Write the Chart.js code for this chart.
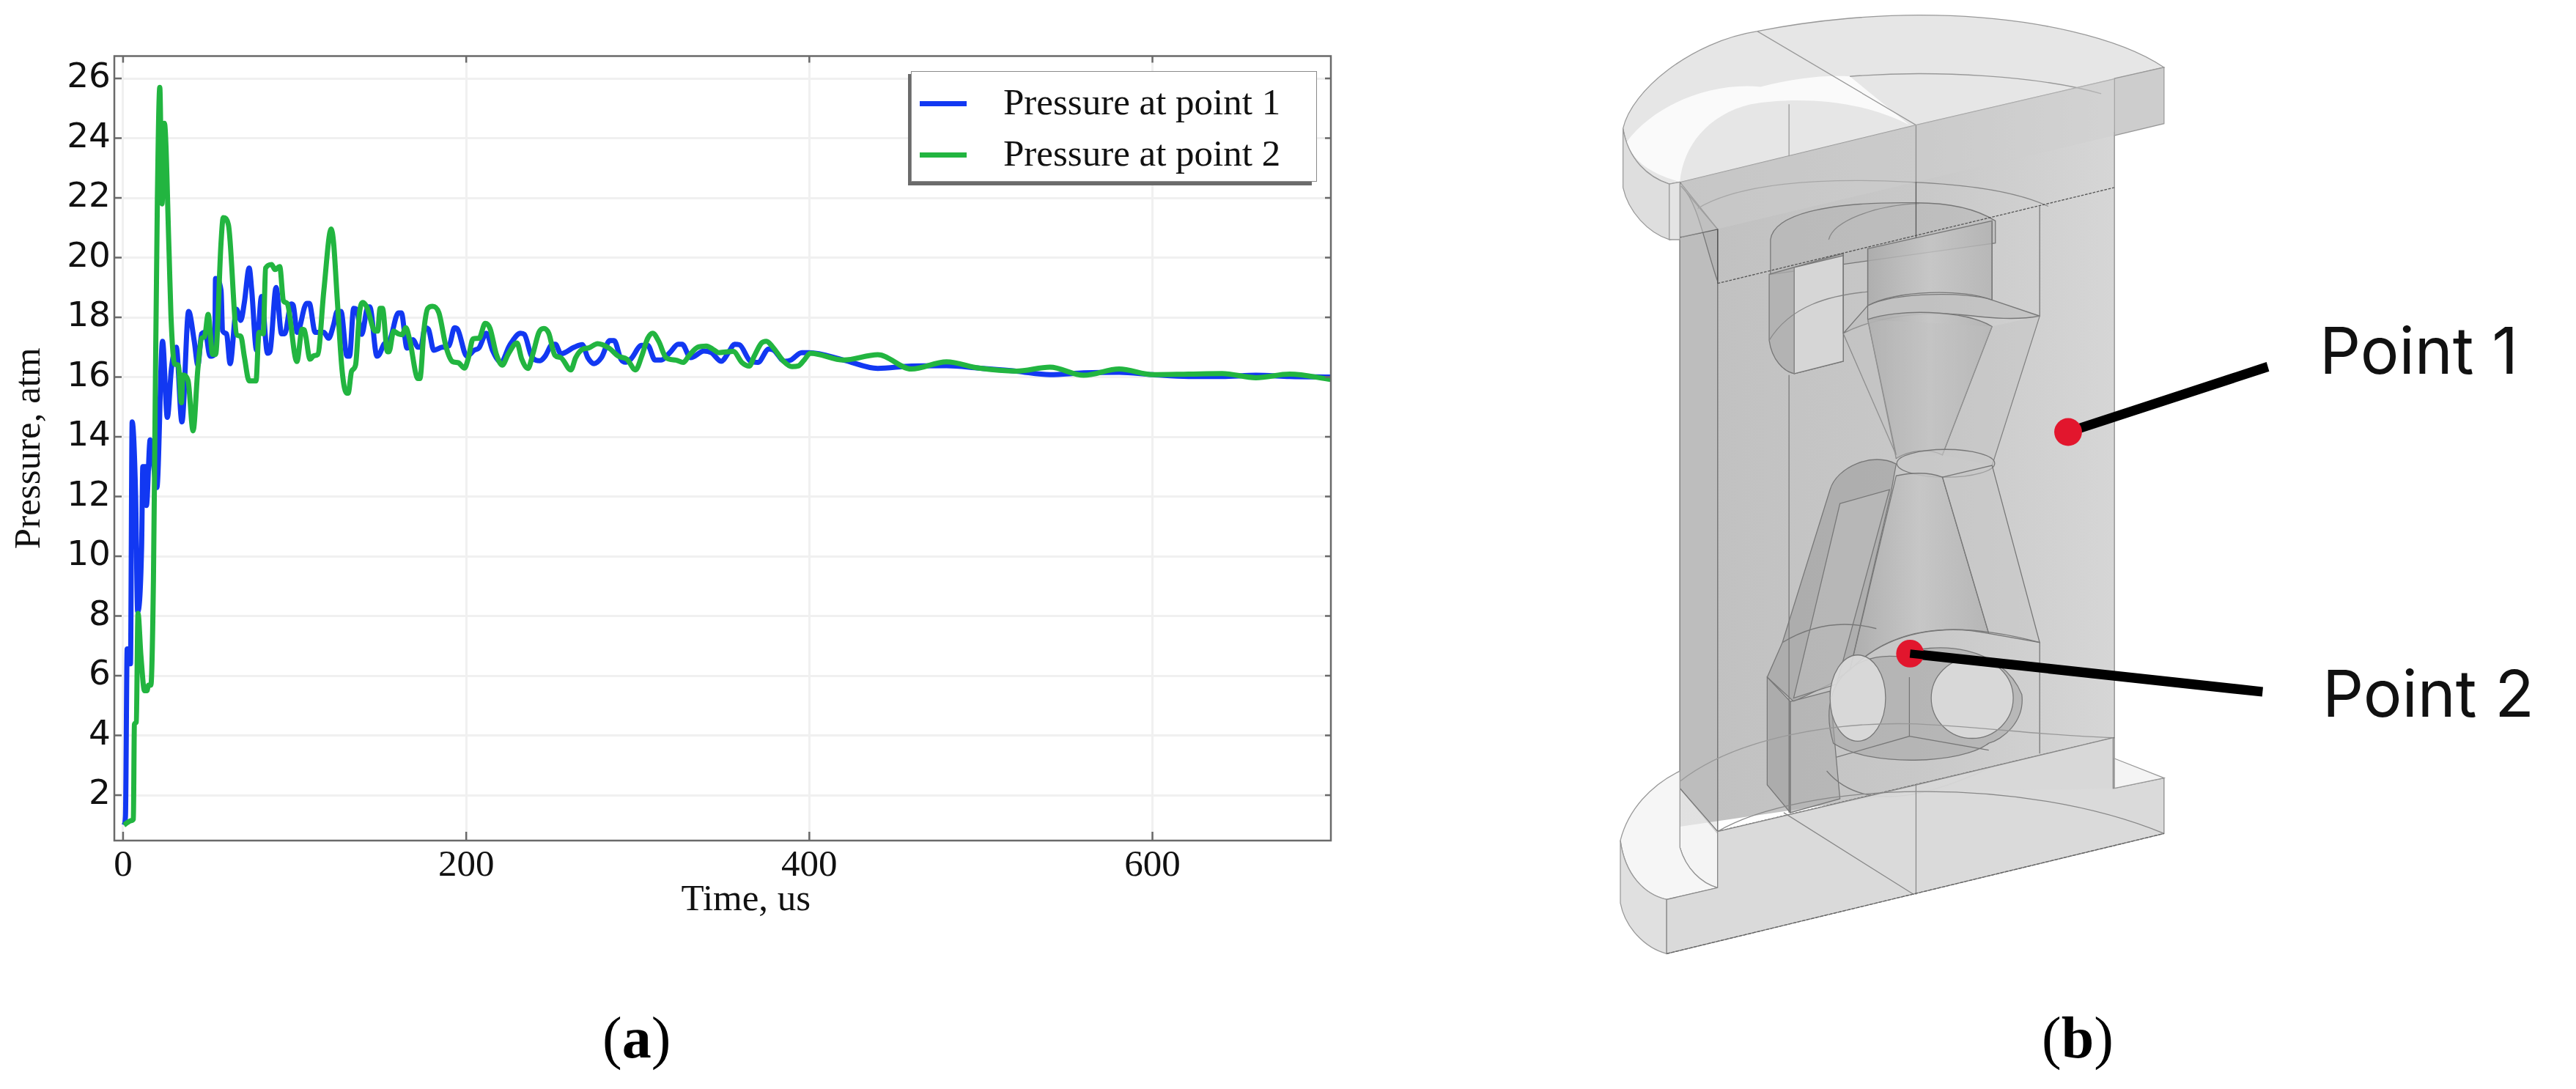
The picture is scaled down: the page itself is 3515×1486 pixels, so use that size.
<!DOCTYPE html>
<html><head><meta charset="utf-8">
<script src="https://cdn.jsdelivr.net/npm/chart.js@4/dist/chart.umd.min.js"></script>
<style>
html,body{margin:0;padding:0;background:#fff;width:3515px;height:1486px;overflow:hidden}
#wrap{position:relative;width:3515px;height:1486px}
canvas{position:absolute;left:0;top:0}
svg{position:absolute;left:0;top:0}
.t{position:absolute;white-space:pre;color:#000}
.leg{font:51px "Liberation Serif",serif;line-height:60px;color:#111}
.pt{font:88px Inter,sans-serif;line-height:100px;color:#111}
.cap{font:80px "Liberation Serif",serif;line-height:90px}
.cap b{font-weight:700}
</style></head><body><div id="wrap">
<canvas id="c" width="3515" height="1486" style="width:3515px;height:1486px"></canvas>
<svg width="3515" height="1486" viewBox="0 0 3515 1486" style="pointer-events:none">
<defs><linearGradient id="bg" x1="0" x2="1" y1="0" y2="0"><stop offset="0" stop-color="#c0c0c0"/><stop offset=".55" stop-color="#c8c8c8"/><stop offset="1" stop-color="#d6d6d6"/></linearGradient>
<linearGradient id="th" x1="0" x2="1" y1="0" y2="0"><stop offset="0" stop-color="#a9a9a9"/><stop offset=".5" stop-color="#c6c6c6"/><stop offset="1" stop-color="#b2b2b2"/></linearGradient></defs>
<g transform="translate(2100,0) scale(0.9025,0.9478)" stroke="#777" stroke-width="1.4" fill="none">
<path d="M213,262L570,180L870,113L870,1135L570,1140L213,1190Z" fill="url(#bg)" stroke="none"/>
<path d="M213,262L270,330V1200L213,1135Z" fill="#b4b4b4" fill-opacity=".25"/>
<path d="M215,268C240,290 250,350 270,405L270,330Z" fill="#a8a8a8" fill-opacity=".4"/>
<path d="M240,300C300,265 420,255 560,262C640,265 720,275 770,297" stroke="#888"/>
<path d="M350,345C355,310 430,290 570,292C620,292 660,300 690,318L690,350L350,395Z" fill="#a8a8a8" fill-opacity=".35"/>
<path d="M438,345C445,318 510,295 575,293" stroke="#888"/>
<path d="M348,395V490C352,518 370,535 386,538L460,520V365Z" fill="#aeaeae" fill-opacity=".75"/>
<path d="M386,385L460,368V520L386,538Z" fill="#d6d6d6"/>
<path d="M386,385V538M348,490C380,440 440,425 497,420" stroke="#888"/>
<path d="M497,358L685,318V432C640,415 540,418 497,440Z" fill="url(#th)" fill-opacity=".8"/>
<path d="M497,440C540,420 650,420 685,432L757,455C700,465 640,450 610,452C560,450 500,460 460,480Z" fill="#bdbdbd" fill-opacity=".6"/>
<path d="M497,460C540,445 640,445 685,470L610,655C590,645 560,648 540,660Z" fill="url(#th)" fill-opacity=".9"/>
<path d="M460,365V480L540,655M757,297V455L685,670M685,320V432M497,358V460L540,655M685,470L610,655"/>
<path d="M460,480L540,660L610,655L685,670L757,455L685,470L497,460Z" fill="#c0c0c0" fill-opacity=".35" stroke="none"/>
<ellipse cx="615" cy="667" rx="74" ry="20" fill="#c8c8c8" fill-opacity=".6"/>
<path d="M540,685C565,680 590,680 610,687L680,912C620,900 530,905 470,965Z" fill="url(#th)" fill-opacity=".85"/>
<path d="M610,687L685,670L757,925L680,912Z" fill="#c5c5c5" fill-opacity=".5"/>
<path d="M440,705C450,672 505,650 540,668L532,710L470,965L440,985L385,1010L345,975L368,925Z" fill="#9f9f9f" fill-opacity=".6"/>
<path d="M455,725L530,705L450,985L385,1005Z" fill="#bbbbbb" fill-opacity=".65"/>
<path d="M470,965C530,905 620,890 757,925M368,925C420,895 470,895 510,905"/>
<path d="M345,975L380,1010V1170L345,1130Z" fill="#9c9c9c" fill-opacity=".6"/>
<path d="M380,1010L440,995L455,1150L380,1170Z" fill="#afafaf" fill-opacity=".65"/>
<path d="M445,1070C420,990 470,940 540,945C600,920 700,930 730,1000C735,1040 700,1065 680,1070C640,1100 500,1105 445,1070Z" fill="#a6a6a6" fill-opacity=".55"/>
<ellipse cx="482" cy="1005" rx="42" ry="62" fill="#dcdcdc" fill-opacity=".9"/>
<ellipse cx="655" cy="1005" rx="62" ry="58" fill="#dcdcdc" fill-opacity=".9"/>
<path d="M560,975V1060L450,1090M560,1060L680,1080M435,1110C480,1160 560,1160 682,1105M757,925V1085M378,540V1170M270,330V1200"/>
<path d="M270,408L870,270M270,1197L870,1062" stroke="#555" stroke-dasharray="4 2"/>
<path d="M570,180V342" stroke="#555"/>
<path d="M213,262V1190M870,190V1135" stroke="#888"/>
<path d="M197,345L270,330V408" stroke="#555"/>
<path d="M127,185C140,130 230,60 330,45C420,28 520,20 600,22C750,25 880,55 945,97L570,180L215,262L197,265C165,255 135,230 127,185Z" fill="#e6e6e6" stroke="#999"/>
<path d="M132,205C175,150 260,118 335,125C390,112 430,108 470,110L560,180C480,140 380,140 320,150C255,165 218,210 213,262C170,250 145,235 132,205Z" fill="#fafafa" stroke="none"/>
<path d="M330,45L570,180M470,110C600,100 760,110 850,135M378,150V225" stroke="#999"/>
<path d="M127,185V270C135,305 165,335 197,345V265C165,255 135,230 127,185Z" fill="#dedede" stroke="#999"/>
<path d="M197,265L213,262L213,345L197,345Z" fill="#e4e4e4" stroke="#999"/>
<path d="M945,97V178L870,195V113Z" fill="#cdcdcd" stroke="#999"/>
<path d="M570,180L870,113V195L570,262L215,342V262Z" fill="#cfcfcf" fill-opacity=".45" stroke="none"/>
<path d="M213,1125C300,1060 450,1040 560,1042C650,1044 770,1060 868,1062" stroke="#999"/>
<path d="M213,1125V1220C222,1250 245,1272 270,1278V1197L213,1135Z" fill="#f0f0f0" fill-opacity=".7" stroke="#777"/>
<path d="M123,1210C135,1165 170,1130 213,1110V1220C222,1250 245,1272 270,1278L193,1295C160,1288 130,1260 123,1210Z" fill="#f6f6f6" stroke="#999"/>
<path d="M123,1210V1300C130,1335 160,1365 193,1373V1295C160,1288 130,1260 123,1210Z" fill="#e0e0e0" stroke="#999"/>
<path d="M193,1295L270,1278V1197L570,1130L868,1062V1135L945,1120V1200L193,1373Z" fill="#d8d8d8" fill-opacity=".95" stroke="#888"/>
<path d="M870,1092L945,1120L870,1135Z" fill="#f4f4f4" stroke="#999"/>
<path d="M570,1130V1288M370,1170L567,1288M270,1197C400,1125 730,1115 945,1200" stroke="#888"/>
<path d="M193,1373L945,1200" stroke="#666" stroke-dasharray="5 2"/>
<g stroke="#000" stroke-width="14"><line x1="800" y1="622" x2="1102" y2="528"/><line x1="561" y1="941" x2="1094" y2="996"/></g>
<ellipse cx="800" cy="622" rx="21" ry="20" fill="#e2162d" stroke="none"/>
<ellipse cx="561" cy="941" rx="21" ry="20" fill="#e2162d" stroke="none"/>
<path d="M561,941L620,947" stroke="#000" stroke-width="12"/>
</g>
</svg>
<div id="legend"></div>
<div class="t pt" style="left:3165px;top:428px">Point 1</div>
<div class="t pt" style="left:3169px;top:896px">Point 2</div>
<div class="t cap" style="left:822px;top:1371px">(<b>a</b>)</div>
<div class="t cap" style="left:2786px;top:1371px">(<b>b</b>)</div>
</div>
<script>
const seriesNames = ['Pressure at point 1', 'Pressure at point 2'];
const xTickValues = [0, 200, 400, 600];
const yTickValues = [2,4,6,8,10,12,14,16,18,20,22,24,26];
const blueT = [0.6,1.4,2.4,4.0,4.3,5.3,7.3,8.5,10.8,11.5,13.4,13.6,15.8,19.7,23,25.8,28.2,31,34.3,38.2,41.5,43.6,45.8,47.9,50.7,53.4,53.9,57.1,58,60.3,62.4,66.1,68.6,70.7,73.5,75,77.8,80.7,84.2,85.6,89.2,92.4,94.2,98,99.2,101.5,107,108.5,112,117,119.8,122.7,124.8,127,130.5,132,134.4,136,139.1,142.7,143.8,148,149.4,152,155.5,160.5,162.2,165.5,169,171.9,173.5,176,178,181.1,186,190,193.2,195,200.4,204.7,207.5,211.8,215.3,220.3,225.3,231.7,233.9,238.1,243.1,246,250.3,252,255.2,263,267.6,270.9,274.5,278.8,283.7,286.2,290.2,293,295.9,302.3,305.8,310.1,313.7,318.7,323.6,325.8,330.8,338.6,342.9,348.6,352.9,356.4,359.3,365.7,370,376.4,379.2,385.6,389.2,395.6,399.9,420,439.9,459.5,480,498.8,520.6,540.3,559.9,580.6,600.3,621,640.6,660.3,680,704];
const blueP = [1,1.3,6.9,6.9,6.4,14.5,12.05,8.15,10.3,13,13,11.7,13.9,12.3,17.2,14.65,16.3,17,14.5,18.2,17.2,16.4,17.45,17.5,16.7,16.76,19.3,18.9,17.55,17.45,16.45,18.27,17.9,18.5,19.65,18.9,16.9,18.7,16.8,16.85,19,17.45,17.45,18.45,18.4,17.5,18.47,18.47,17.5,17.5,17.3,17.75,18.2,18.2,16.7,16.7,18.3,18.27,17.43,18.35,18.35,16.7,16.76,17.1,17.25,18.15,18.15,16.97,17.25,17,17,17.65,17.6,16.9,17,17.05,17.65,17.6,16.7,16.9,16.98,17.47,16.9,16.5,17.06,17.47,17.43,16.7,16.55,16.7,17.1,17.1,16.78,17,17.09,16.65,16.45,16.65,17.22,17.22,16.6,16.5,16.6,17.06,17.06,16.57,16.57,16.82,17.1,17.1,16.65,16.87,16.82,16.53,16.82,17.1,17.08,16.53,16.49,16.94,16.9,16.53,16.57,16.82,16.82,16.57,16.29,16.37,16.38,16.3,16.2,16.08,16.14,16.16,16.08,16.02,16.02,16.06,16.02,16];
const greenT = [0.5,4.9,6.0,6.6,7.7,8.7,10.4,12.5,13.9,14.8,16.2,17.7,18.7,20,21.4,22.7,24.1,26.8,27.9,30,32.2,34,34.8,37.9,40.8,43.6,45.8,47.5,49.6,52.2,53.9,57.1,58.4,61.4,66.4,68.6,70.7,73.5,77.5,79.2,81.7,83.1,86.6,88.5,91.3,93.5,95.6,101.3,104.4,105.6,109,111.3,113.5,117,121.3,122.7,124.9,127.7,130.3,131.2,133.2,135.5,137.8,139.8,142,147,148.4,149.8,151.2,154.1,155,157.7,160.4,162.6,164.8,167,171.9,173,175.5,177.6,180.4,184.1,188.3,192,195.4,199,201.1,204,207.5,211.1,213.9,217.5,221,224.6,229.6,232.4,236,238.9,242.4,245.3,248.1,251.7,255.2,261,263.8,267.4,271.6,276.6,283,288.7,293.7,298.7,302.3,305.8,308.7,312.2,316.5,322.2,326.5,330,335,340,343.6,347.2,355.7,360.7,365,367.8,372.1,375,378.5,385,389.9,393.5,397,400.6,420,439.9,459.5,480,498.8,520.6,540.3,559.9,580.6,600.3,621,640.6,660.3,680,704];
const greenP = [1,1.15,1.2,4.37,4.45,8.09,6.67,5.5,5.5,5.68,5.68,9.2,15,22,25.7,21.8,24.5,20.2,18.07,16.44,16.4,15.14,16.07,15.87,14.2,16.28,17.3,17.35,18.1,16.76,16.76,20.5,21.34,21.1,17.41,17.37,16.68,15.87,15.87,17.5,17.45,19.65,19.77,19.6,19.7,18.55,18.47,16.52,17.6,17.58,16.6,16.72,16.76,18.88,20.96,20.5,18.55,16.2,15.46,15.46,16.2,16.4,18.15,18.5,18.35,17.54,17.54,18.3,18.3,16.85,16.85,17.54,17.45,17.42,17.65,17.26,15.95,15.95,17.65,18.3,18.37,18.15,17,16.52,16.48,16.3,16.6,17.28,17.3,17.8,17.63,16.78,16.4,16.78,17.14,16.6,16.29,16.78,17.5,17.63,17.47,16.73,16.65,16.24,16.65,16.92,16.98,17.12,16.98,16.7,16.6,16.24,16.7,17.3,17.47,17.2,16.65,16.57,16.49,16.73,17,17.04,16.94,16.82,16.86,16.49,16.37,16.69,17.14,17.2,17.02,16.53,16.35,16.37,16.57,16.8,16.57,16.75,16.27,16.51,16.3,16.2,16.33,16.06,16.27,16.08,16.1,16.12,15.98,16.1,15.92];
const blueColor = '#1238f2', greenColor = '#22b540';
const toPts = (t,p)=>t.map((x,i)=>({x,y:p[i]}));
const frame = {
  id:'frame',
  afterDatasetsDraw(ch){
    const {ctx,chartArea:a,scales:{x,y}}=ch;
    ctx.save();
    ctx.strokeStyle='#6a6a6a';ctx.lineWidth=2.5;
    ctx.strokeRect(a.left,a.top,a.right-a.left,a.bottom-a.top);
    ctx.beginPath();
    y.ticks.forEach(t=>{const p=y.getPixelForValue(t.value);
      ctx.moveTo(a.left,p);ctx.lineTo(a.left+10,p);ctx.moveTo(a.right-8,p);ctx.lineTo(a.right,p);});
    x.ticks.forEach(t=>{const p=x.getPixelForValue(t.value);
      ctx.moveTo(p,a.top);ctx.lineTo(p,a.top+9);ctx.moveTo(p,a.bottom);ctx.lineTo(p,a.bottom-12);});
    ctx.stroke();ctx.restore();
  }
};
new Chart(document.getElementById('c'),{
  type:'line',
  data:{datasets:[
    {label:seriesNames[0],order:2,data:toPts(blueT,blueP),borderColor:blueColor,borderWidth:7,pointRadius:0,cubicInterpolationMode:'monotone',borderJoinStyle:'round',backgroundColor:blueColor},
    {label:seriesNames[1],order:1,data:toPts(greenT,greenP),borderColor:greenColor,borderWidth:7,pointRadius:0,cubicInterpolationMode:'monotone',borderJoinStyle:'round',backgroundColor:greenColor}
  ]},
  plugins:[frame],
  options:{
    responsive:false,animation:false,devicePixelRatio:1,
    layout:{padding:{left:0,top:76.5,right:3515-1816,bottom:0}},
    plugins:{legend:{display:false},tooltip:{enabled:false}},
    scales:{
      x:{type:'linear',min:-5.1,max:704,
        afterBuildTicks(s){s.ticks=xTickValues.map(v=>({value:v}));},
        afterFit(s){s.height=1486-1147;},
        grid:{color:'#f0f0f0',lineWidth:3,drawTicks:false},border:{display:false},
        ticks:{font:{family:'"Liberation Serif"',size:51},color:'#111',padding:4,maxRotation:0,autoSkip:false},
        title:{display:true,text:'     Time, us',font:{family:'"Liberation Serif"',size:51},color:'#111',padding:{top:0,bottom:227}}},
      y:{type:'linear',min:0.48,max:26.75,
        afterBuildTicks(s){s.ticks=yTickValues.map(v=>({value:v}));},
        afterFit(s){s.width=156;},
        grid:{color:'#f0f0f0',lineWidth:3,drawTicks:false},border:{display:false},
        ticks:{font:{family:'"DejaVu Sans"',size:47},color:'#111',padding:5,autoSkip:false},
        title:{display:true,text:'Pressure, atm',font:{family:'"Liberation Serif"',size:51},color:'#111',padding:{top:10,bottom:0}}}
    }
  }
});
// legend box built from the series names and colours
const L=document.getElementById('legend');
L.innerHTML=`<div style="position:absolute;left:1239px;top:101px;width:551px;height:152px;background:#6b6b6b"></div>
<div style="position:absolute;left:1243px;top:97px;width:552px;height:149px;background:#fff;border:1.5px solid #8a8a8a"></div>`+
[[seriesNames[0],blueColor,141],[seriesNames[1],greenColor,211]].map(([n,c,y])=>
`<div style="position:absolute;left:1255px;top:${y-3}px;width:64px;height:7px;background:${c}"></div>
<div class="t leg" style="left:1369px;top:${y-32}px">${n}</div>`).join('');
</script></body></html>
